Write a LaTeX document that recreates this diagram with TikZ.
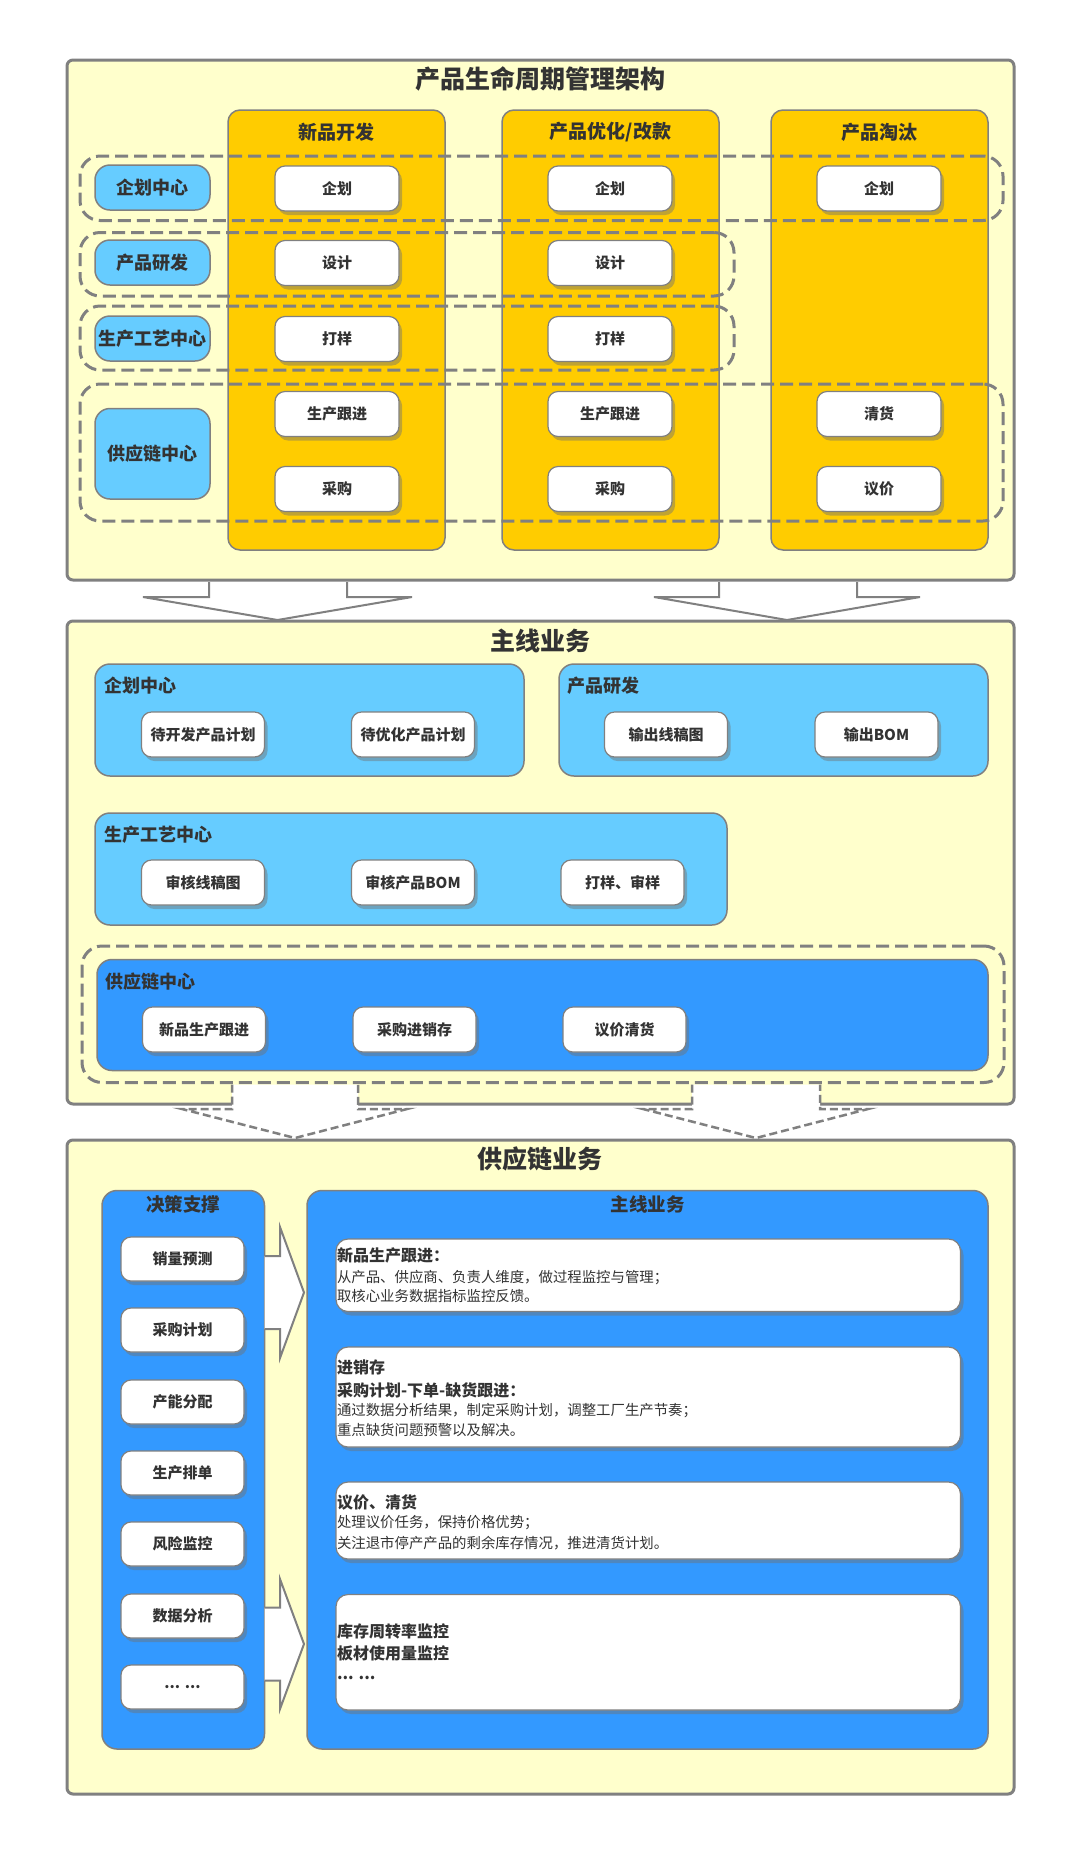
\documentclass[tikz,border=0pt]{standalone}
\usepackage{fontspec}
\setmainfont{Noto Sans CJK SC}
\usetikzlibrary{shadows}
\definecolor{ybg}{HTML}{FFFFCC}
\definecolor{orng}{HTML}{FFCC00}
\definecolor{lblue}{HTML}{66CCFF}
\definecolor{dblue}{HTML}{3399FF}
\definecolor{bord}{HTML}{808080}
\definecolor{txt}{HTML}{333333}
\newcommand\myfs[1]{\fontsize{#1}{#1}\selectfont}
\tikzset{
  base/.style={inner sep=0pt, outer sep=0pt},
  outerbox/.style={base, draw=bord, fill=ybg, line width=3pt, rounded corners=6pt},
  colbox/.style={base, draw=bord, fill=orng, line width=1.5pt, rounded corners=12pt},
  lbbox/.style={base, draw=bord, fill=lblue, line width=1.5pt, rounded corners=15pt, text=txt, font=\bfseries\myfs{18}},
  panel/.style={base, draw=bord, line width=1.5pt, rounded corners=15pt},
  wbox/.style={base, draw=bord, fill=white, line width=1.2pt, rounded corners=10pt, text=txt,
    font=\bfseries\myfs{15}, minimum width=124pt, minimum height=45pt,
    drop shadow={shadow xshift=3pt, shadow yshift=-4pt, fill=black!55, opacity=0.45}},
  tbox/.style={base, draw=bord, fill=white, line width=1.2pt, rounded corners=12pt,
    minimum width=624.5pt,
    drop shadow={shadow xshift=3pt, shadow yshift=-4pt, fill=black!55, opacity=0.45}},
  grp/.style={base, draw=bord, line width=3pt, dash pattern=on 13pt off 6pt, rounded corners=20pt},
  bigtitle/.style={base, text=txt, font=\bfseries\myfs{25}},
  coltitle/.style={base, text=txt, font=\bfseries\myfs{19}},
  plabel/.style={base, text=txt, font=\bfseries\myfs{18}, anchor=west},
  hline/.style={base, text=txt, font=\bfseries\myfs{16}, anchor=west},
  nline/.style={base, text=txt, font=\myfs{14.4}, anchor=west},
  arrowline/.style={draw=bord, line width=2pt, line join=miter},
  darrowline/.style={draw=bord, line width=2.5pt, dash pattern=on 8pt off 4pt},
}
\begin{document}
\begin{tikzpicture}[x=1pt,y=-1pt]
\useasboundingbox[fill=white] (0,0) rectangle (1080,1856);

% ================= Box 1 =================
\node[outerbox, minimum width=947pt, minimum height=520pt] (box1) at (540.5,320) {};
\node[bigtitle] (t1) at (540,79) {产品生命周期管理架构};

\node[colbox, minimum width=217pt, minimum height=440pt] (c1) at (336.5,330) {};
\node[colbox, minimum width=217pt, minimum height=440pt] (c2) at (610.5,330) {};
\node[colbox, minimum width=217pt, minimum height=440pt] (c3) at (879.5,330) {};
\node[coltitle] (h1) at (336.5,132) {新品开发};
\node[coltitle] (h2) at (610.5,132) {产品优化/改款};
\node[coltitle] (h3) at (879.5,132) {产品淘汰};

\node[lbbox, minimum width=115pt, minimum height=45pt] (r1) at (152.5,187.5) {企划中心};
\node[lbbox, minimum width=115pt, minimum height=45pt] (r2) at (152.5,262.5) {产品研发};
\node[lbbox, minimum width=115pt, minimum height=45pt] (r3) at (152.5,338.5) {生产工艺中心};
\node[lbbox, minimum width=115pt, minimum height=90.5pt] (r4) at (152.5,453.75) {供应链中心};

\node[grp, minimum width=923pt, minimum height=64.5pt] (g1) at (541.5,188.25) {};
\node[grp, minimum width=654pt, minimum height=63.5pt] (g2) at (407,264.25) {};
\node[grp, minimum width=654pt, minimum height=64pt] (g3) at (407,338) {};
\node[grp, minimum width=923pt, minimum height=137pt] (g4) at (541.5,452.5) {};

\node[wbox] (a11) at (337,188.5) {企划};
\node[wbox] (a12) at (337,263) {设计};
\node[wbox] (a13) at (337,339) {打样};
\node[wbox] (a14) at (337,414) {生产跟进};
\node[wbox] (a15) at (337,489) {采购};
\node[wbox] (a21) at (610,188.5) {企划};
\node[wbox] (a22) at (610,263) {设计};
\node[wbox] (a23) at (610,339) {打样};
\node[wbox] (a24) at (610,414) {生产跟进};
\node[wbox] (a25) at (610,489) {采购};
\node[wbox] (a31) at (879,188.5) {企划};
\node[wbox] (a34) at (879,414) {清货};
\node[wbox] (a35) at (879,489) {议价};

% big arrows box1 -> box2
\fill[white] (209,582) -- (209,597) -- (143,597) -- (277.5,620) -- (412,597) -- (347,597) -- (347,582) -- cycle;
\draw[arrowline] (209,582) -- (209,597) -- (143,597) -- (277.5,620) -- (412,597) -- (347,597) -- (347,582);
\fill[white] (719,582) -- (719,597) -- (654,597) -- (787,620) -- (920,597) -- (857,597) -- (857,582) -- cycle;
\draw[arrowline] (719,582) -- (719,597) -- (654,597) -- (787,620) -- (920,597) -- (857,597) -- (857,582);

% ================= Box 2 =================
\node[outerbox, minimum width=947pt, minimum height=483pt] (box2) at (540.5,862.5) {};
\node[bigtitle] (t2) at (540,641) {主线业务};

\node[panel, fill=lblue, minimum width=429pt, minimum height=112pt] (p1) at (309.5,720) {};
\node[plabel] (p1l) at (104,686) {企划中心};
\node[wbox, minimum width=123pt] (b11) at (203,734.5) {待开发产品计划};
\node[wbox, minimum width=123pt] (b12) at (413,734.5) {待优化产品计划};

\node[panel, fill=lblue, minimum width=429pt, minimum height=112pt] (p2) at (773.5,720) {};
\node[plabel] (p2l) at (567,686) {产品研发};
\node[wbox, minimum width=123pt] (b21) at (666,734.5) {输出线稿图};
\node[wbox, minimum width=123pt] (b22) at (876.5,734.5) {输出BOM};

\node[panel, fill=lblue, minimum width=632pt, minimum height=112pt] (p3) at (411,869) {};
\node[plabel] (p3l) at (104,835) {生产工艺中心};
\node[wbox, minimum width=123pt] (b31) at (203,882.5) {审核线稿图};
\node[wbox, minimum width=123pt] (b32) at (413,882.5) {审核产品BOM};
\node[wbox, minimum width=123pt] (b33) at (622.5,882.5) {打样、审样};

\node[grp, minimum width=922pt, minimum height=136.5pt] (g5) at (543,1014.25) {};
\node[panel, fill=dblue, minimum width=891pt, minimum height=111pt] (p4) at (542.5,1015) {};
\node[plabel] (p4l) at (105,982) {供应链中心};
\node[wbox, minimum width=123pt] (b41) at (204,1029.5) {新品生产跟进};
\node[wbox, minimum width=123pt] (b42) at (414.5,1029.5) {采购进销存};
\node[wbox, minimum width=123pt] (b43) at (624.5,1029.5) {议价清货};

% dashed arrows box2 -> box3
\fill[white] (232,1084.5) -- (232,1109) -- (182,1109) -- (295,1138) -- (407,1109) -- (358,1109) -- (358,1084.5) -- cycle;
\draw[darrowline] (232,1084.5) -- (232,1109) -- (182,1109) -- (295,1138) -- (407,1109) -- (358,1109) -- (358,1084.5);
\fill[white] (692,1084.5) -- (692,1109) -- (643,1109) -- (756,1138) -- (868,1109) -- (820,1109) -- (820,1084.5) -- cycle;
\draw[darrowline] (692,1084.5) -- (692,1109) -- (643,1109) -- (756,1138) -- (868,1109) -- (820,1109) -- (820,1084.5);

% ================= Box 3 =================
\node[outerbox, minimum width=947pt, minimum height=654pt] (box3) at (540.5,1467) {};
\node[bigtitle] (t3) at (540,1159) {供应链业务};

\node[panel, fill=dblue, minimum width=162.5pt, minimum height=558.5pt] (pd) at (183.25,1469.75) {};
\node[coltitle, font=\bfseries\myfs{18.5}] (pdl) at (183.25,1204.5) {决策支撑};
\node[wbox, minimum width=123pt, minimum height=44pt] (d1) at (182.5,1259) {销量预测};
\node[wbox, minimum width=123pt, minimum height=44pt] (d2) at (182.5,1330) {采购计划};
\node[wbox, minimum width=123pt, minimum height=44pt] (d3) at (182.5,1402) {产能分配};
\node[wbox, minimum width=123pt, minimum height=44pt] (d4) at (182.5,1473) {生产排单};
\node[wbox, minimum width=123pt, minimum height=44pt] (d5) at (182.5,1544) {风险监控};
\node[wbox, minimum width=123pt, minimum height=44pt] (d6) at (182.5,1616) {数据分析};
\node[wbox, minimum width=123pt, minimum height=44pt] (d7) at (182.5,1687) {... ...};

\node[panel, fill=dblue, minimum width=681pt, minimum height=558.5pt] (pm) at (647.5,1469.75) {};
\node[coltitle, font=\bfseries\myfs{18.5}] (pml) at (647.5,1204.5) {主线业务};

\node[tbox, minimum height=72.5pt] (tb1) at (648.25,1275.25) {};
\node[hline] (tb1a) at (337,1255.6) {新品生产跟进：};
\node[nline] (tb1b) at (337,1277.5) {从产品、供应商、负责人维度，做过程监控与管理；};
\node[nline] (tb1c) at (337,1296.5) {取核心业务数据指标监控反馈。};

\node[tbox, minimum height=100pt] (tb2) at (648.25,1397) {};
\node[hline] (tb2a) at (337,1367) {进销存};
\node[hline] (tb2b) at (337,1390) {采购计划-下单-缺货跟进：};
\node[nline] (tb2c) at (337,1410.6) {通过数据分析结果，制定采购计划，调整工厂生产节奏；};
\node[nline] (tb2d) at (337,1430) {重点缺货问题预警以及解决。};

\node[tbox, minimum height=77pt] (tb3) at (648.25,1520.5) {};
\node[hline] (tb3a) at (337,1502) {议价、清货};
\node[nline] (tb3b) at (337,1523) {处理议价任务，保持价格优势；};
\node[nline] (tb3c) at (337,1543) {关注退市停产产品的剩余库存情况，推进清货计划。};

\node[tbox, minimum height=115.5pt] (tb4) at (648.25,1652.25) {};
\node[hline] (tb4a) at (337,1631) {库存周转率监控};
\node[hline] (tb4b) at (337,1653.5) {板材使用量监控};
\node[hline] (tb4c) at (337,1678) {... ...};

% side arrows
\fill[white] (264.5,1256) -- (280,1256) -- (280,1227) -- (304,1292.5) -- (280,1358) -- (280,1329) -- (264.5,1329) -- cycle;
\draw[arrowline] (264.5,1256) -- (280,1256) -- (280,1227) -- (304,1292.5) -- (280,1358) -- (280,1329) -- (264.5,1329);
\fill[white] (264.5,1607.5) -- (280,1607.5) -- (280,1579) -- (304,1644) -- (280,1709) -- (280,1680.5) -- (264.5,1680.5) -- cycle;
\draw[arrowline] (264.5,1607.5) -- (280,1607.5) -- (280,1579) -- (304,1644) -- (280,1709) -- (280,1680.5) -- (264.5,1680.5);
\end{tikzpicture}
\end{document}
